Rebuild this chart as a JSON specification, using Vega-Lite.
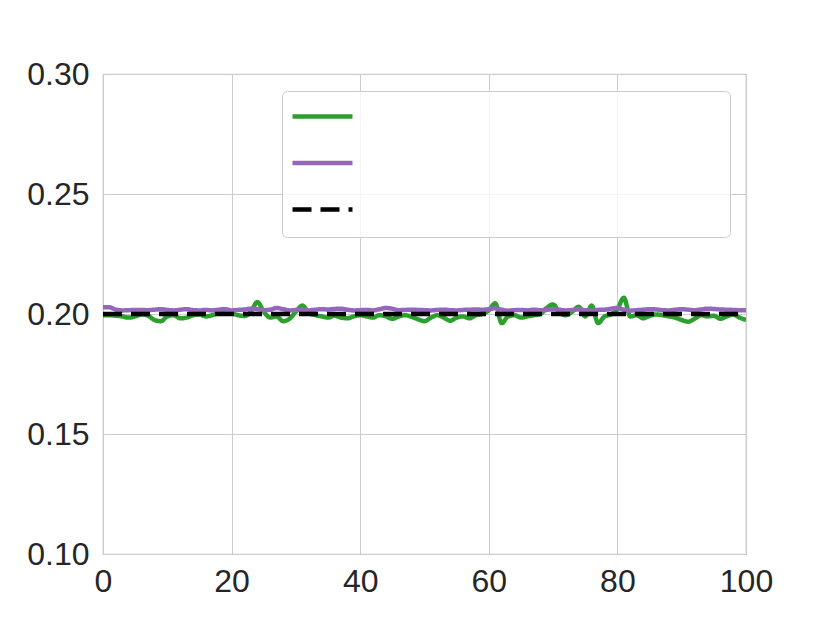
{
  "$schema": "https://vega.github.io/schema/vega-lite/v6.json",
  "width": 643,
  "height": 480,
  "autosize": "none",
  "padding": {"left": 103, "top": 74, "right": 84, "bottom": 69},
  "background": "white",
  "config": {
    "font": "Liberation Sans",
    "view": {"stroke": "#cccccc", "strokeWidth": 1.25},
    "axis": {
      "grid": true, "gridColor": "#cccccc", "gridWidth": 1.1,
      "domain": false, "ticks": false, "labelFlush": false,
      "labelFont": "Liberation Sans", "labelFontSize": 32, "labelColor": "#262626",
      "title": null
    }
  },
  "data": {
    "values": [
      {"x":0,"s":"a","v":0.1995},{"x":1,"s":"a","v":0.1995},{"x":2,"s":"a","v":0.1993},{"x":3,"s":"a","v":0.1990},{"x":4,"s":"a","v":0.1985},{"x":5,"s":"a","v":0.1990},{"x":6,"s":"a","v":0.1998},{"x":7,"s":"a","v":0.1993},{"x":8,"s":"a","v":0.1975},{"x":9,"s":"a","v":0.1970},
      {"x":10,"s":"a","v":0.1990},{"x":11,"s":"a","v":0.1995},{"x":12,"s":"a","v":0.1982},{"x":13,"s":"a","v":0.1985},{"x":14,"s":"a","v":0.1995},{"x":15,"s":"a","v":0.1998},{"x":16,"s":"a","v":0.1990},{"x":17,"s":"a","v":0.1995},{"x":18,"s":"a","v":0.2005},{"x":19,"s":"a","v":0.2015},
      {"x":20,"s":"a","v":0.2005},{"x":21,"s":"a","v":0.1995},{"x":22,"s":"a","v":0.1992},{"x":23,"s":"a","v":0.2010},{"x":24,"s":"a","v":0.2050},{"x":25,"s":"a","v":0.2010},{"x":26,"s":"a","v":0.1985},{"x":27,"s":"a","v":0.1990},{"x":28,"s":"a","v":0.1970},{"x":29,"s":"a","v":0.1980},
      {"x":30,"s":"a","v":0.2010},{"x":31,"s":"a","v":0.2035},{"x":32,"s":"a","v":0.2005},{"x":33,"s":"a","v":0.1995},{"x":34,"s":"a","v":0.1990},{"x":35,"s":"a","v":0.1985},{"x":36,"s":"a","v":0.1993},{"x":37,"s":"a","v":0.1985},{"x":38,"s":"a","v":0.1982},{"x":39,"s":"a","v":0.1990},
      {"x":40,"s":"a","v":0.1995},{"x":41,"s":"a","v":0.1990},{"x":42,"s":"a","v":0.1985},{"x":43,"s":"a","v":0.1995},{"x":44,"s":"a","v":0.1990},{"x":45,"s":"a","v":0.1980},{"x":46,"s":"a","v":0.1990},{"x":47,"s":"a","v":0.1995},{"x":48,"s":"a","v":0.1988},{"x":49,"s":"a","v":0.1978},
      {"x":50,"s":"a","v":0.1970},{"x":51,"s":"a","v":0.1985},{"x":52,"s":"a","v":0.1995},{"x":53,"s":"a","v":0.1985},{"x":54,"s":"a","v":0.1972},{"x":55,"s":"a","v":0.1985},{"x":56,"s":"a","v":0.1990},{"x":57,"s":"a","v":0.1982},{"x":58,"s":"a","v":0.1995},{"x":59,"s":"a","v":0.2000},
      {"x":60,"s":"a","v":0.2015},{"x":61,"s":"a","v":0.2045},{"x":62,"s":"a","v":0.1962},{"x":63,"s":"a","v":0.1990},{"x":64,"s":"a","v":0.1995},{"x":65,"s":"a","v":0.1985},{"x":66,"s":"a","v":0.1990},{"x":67,"s":"a","v":0.1995},{"x":68,"s":"a","v":0.2000},{"x":69,"s":"a","v":0.2025},
      {"x":70,"s":"a","v":0.2040},{"x":71,"s":"a","v":0.2005},{"x":72,"s":"a","v":0.1995},{"x":73,"s":"a","v":0.2010},{"x":74,"s":"a","v":0.2030},{"x":75,"s":"a","v":0.1990},{"x":76,"s":"a","v":0.2035},{"x":77,"s":"a","v":0.1962},{"x":78,"s":"a","v":0.1990},{"x":79,"s":"a","v":0.1998},
      {"x":80,"s":"a","v":0.2020},{"x":81,"s":"a","v":0.2068},{"x":82,"s":"a","v":0.1990},{"x":83,"s":"a","v":0.1995},{"x":84,"s":"a","v":0.1982},{"x":85,"s":"a","v":0.1992},{"x":86,"s":"a","v":0.1998},{"x":87,"s":"a","v":0.1995},{"x":88,"s":"a","v":0.1990},{"x":89,"s":"a","v":0.1985},
      {"x":90,"s":"a","v":0.1975},{"x":91,"s":"a","v":0.1968},{"x":92,"s":"a","v":0.1980},{"x":93,"s":"a","v":0.1995},{"x":94,"s":"a","v":0.1990},{"x":95,"s":"a","v":0.1993},{"x":96,"s":"a","v":0.1980},{"x":97,"s":"a","v":0.1990},{"x":98,"s":"a","v":0.1998},{"x":99,"s":"a","v":0.1985},{"x":100,"s":"a","v":0.1975},

      {"x":0,"s":"b","v":0.2028},{"x":1,"s":"b","v":0.2028},{"x":2,"s":"b","v":0.2018},{"x":3,"s":"b","v":0.2015},{"x":4,"s":"b","v":0.2016},{"x":5,"s":"b","v":0.2017},{"x":6,"s":"b","v":0.2017},{"x":7,"s":"b","v":0.2016},{"x":8,"s":"b","v":0.2018},{"x":9,"s":"b","v":0.2020},
      {"x":10,"s":"b","v":0.2017},{"x":11,"s":"b","v":0.2015},{"x":12,"s":"b","v":0.2018},{"x":13,"s":"b","v":0.2020},{"x":14,"s":"b","v":0.2016},{"x":15,"s":"b","v":0.2015},{"x":16,"s":"b","v":0.2017},{"x":17,"s":"b","v":0.2015},{"x":18,"s":"b","v":0.2018},{"x":19,"s":"b","v":0.2020},
      {"x":20,"s":"b","v":0.2015},{"x":21,"s":"b","v":0.2017},{"x":22,"s":"b","v":0.2019},{"x":23,"s":"b","v":0.2022},{"x":24,"s":"b","v":0.2020},{"x":25,"s":"b","v":0.2016},{"x":26,"s":"b","v":0.2018},{"x":27,"s":"b","v":0.2025},{"x":28,"s":"b","v":0.2020},{"x":29,"s":"b","v":0.2015},
      {"x":30,"s":"b","v":0.2017},{"x":31,"s":"b","v":0.2018},{"x":32,"s":"b","v":0.2015},{"x":33,"s":"b","v":0.2018},{"x":34,"s":"b","v":0.2020},{"x":35,"s":"b","v":0.2019},{"x":36,"s":"b","v":0.2021},{"x":37,"s":"b","v":0.2022},{"x":38,"s":"b","v":0.2018},{"x":39,"s":"b","v":0.2015},
      {"x":40,"s":"b","v":0.2016},{"x":41,"s":"b","v":0.2017},{"x":42,"s":"b","v":0.2015},{"x":43,"s":"b","v":0.2020},{"x":44,"s":"b","v":0.2025},{"x":45,"s":"b","v":0.2022},{"x":46,"s":"b","v":0.2016},{"x":47,"s":"b","v":0.2017},{"x":48,"s":"b","v":0.2018},{"x":49,"s":"b","v":0.2017},
      {"x":50,"s":"b","v":0.2016},{"x":51,"s":"b","v":0.2015},{"x":52,"s":"b","v":0.2017},{"x":53,"s":"b","v":0.2018},{"x":54,"s":"b","v":0.2016},{"x":55,"s":"b","v":0.2015},{"x":56,"s":"b","v":0.2017},{"x":57,"s":"b","v":0.2018},{"x":58,"s":"b","v":0.2019},{"x":59,"s":"b","v":0.2018},
      {"x":60,"s":"b","v":0.2020},{"x":61,"s":"b","v":0.2024},{"x":62,"s":"b","v":0.2018},{"x":63,"s":"b","v":0.2014},{"x":64,"s":"b","v":0.2016},{"x":65,"s":"b","v":0.2017},{"x":66,"s":"b","v":0.2015},{"x":67,"s":"b","v":0.2018},{"x":68,"s":"b","v":0.2016},{"x":69,"s":"b","v":0.2017},
      {"x":70,"s":"b","v":0.2020},{"x":71,"s":"b","v":0.2018},{"x":72,"s":"b","v":0.2015},{"x":73,"s":"b","v":0.2017},{"x":74,"s":"b","v":0.2019},{"x":75,"s":"b","v":0.2016},{"x":76,"s":"b","v":0.2013},{"x":77,"s":"b","v":0.2017},{"x":78,"s":"b","v":0.2018},{"x":79,"s":"b","v":0.2022},
      {"x":80,"s":"b","v":0.2025},{"x":81,"s":"b","v":0.2018},{"x":82,"s":"b","v":0.2014},{"x":83,"s":"b","v":0.2016},{"x":84,"s":"b","v":0.2018},{"x":85,"s":"b","v":0.2020},{"x":86,"s":"b","v":0.2019},{"x":87,"s":"b","v":0.2016},{"x":88,"s":"b","v":0.2015},{"x":89,"s":"b","v":0.2018},
      {"x":90,"s":"b","v":0.2020},{"x":91,"s":"b","v":0.2018},{"x":92,"s":"b","v":0.2016},{"x":93,"s":"b","v":0.2019},{"x":94,"s":"b","v":0.2022},{"x":95,"s":"b","v":0.2021},{"x":96,"s":"b","v":0.2019},{"x":97,"s":"b","v":0.2018},{"x":98,"s":"b","v":0.2017},{"x":99,"s":"b","v":0.2016},{"x":100,"s":"b","v":0.2016},

      {"x":0,"s":"c","v":0.2},{"x":100,"s":"c","v":0.2}
    ]
  },
  "mark": {"type": "line", "clip": true, "interpolate": "monotone"},
  "encoding": {
    "x": {"field": "x", "type": "quantitative", "scale": {"domain": [0, 100], "nice": false},
          "axis": {"values": [0, 20, 40, 60, 80, 100], "labelPadding": 12}},
    "y": {"field": "v", "type": "quantitative", "scale": {"domain": [0.1, 0.3], "nice": false, "zero": false},
          "axis": {"values": [0.1, 0.15, 0.2, 0.25, 0.3], "format": ".2f", "labelPadding": 14}},
    "color": {"field": "s", "type": "nominal",
              "scale": {"domain": ["a", "b", "c"], "range": ["#2ca02c", "#9467bd", "#000000"]},
              "legend": {"title": null, "orient": "none", "legendX": 179, "legendY": 17,
                         "symbolType": "M-2,0H2", "symbolSize": 900, "symbolStrokeWidth": 4.5, "symbolOffset": 15,
                         "labelExpr": "'MMMMMMMMMMMMMMMMMMMMMMMM'", "labelFontSize": 19, "labelBaseline": "top", "labelOpacity": 0,
                         "labelLimit": 1000, "labelOffset": 2,
                         "padding": 8, "rowPadding": 9.5,
                         "strokeColor": "#cccccc", "fillColor": "rgba(255,255,255,0.8)", "cornerRadius": 5}},
    "strokeDash": {"field": "s", "type": "nominal",
                   "scale": {"domain": ["a", "b", "c"], "range": [[1, 0], [1, 0], [19, 9]]},
                   "legend": {"title": null, "orient": "none", "legendX": 179, "legendY": 17,
                         "symbolType": "M-2,0H2", "symbolSize": 900, "symbolStrokeWidth": 4.5, "symbolOffset": 15,
                         "labelExpr": "'MMMMMMMMMMMMMMMMMMMMMMMM'", "labelFontSize": 19, "labelBaseline": "top", "labelOpacity": 0,
                         "labelLimit": 1000, "labelOffset": 2,
                         "padding": 8, "rowPadding": 9.5,
                         "strokeColor": "#cccccc", "fillColor": "rgba(255,255,255,0.8)", "cornerRadius": 5}},
    "strokeWidth": {"field": "s", "type": "nominal",
                    "scale": {"domain": ["a", "b", "c"], "range": [4.5, 4.5, 5.5]}, "legend": null}
  }
}
